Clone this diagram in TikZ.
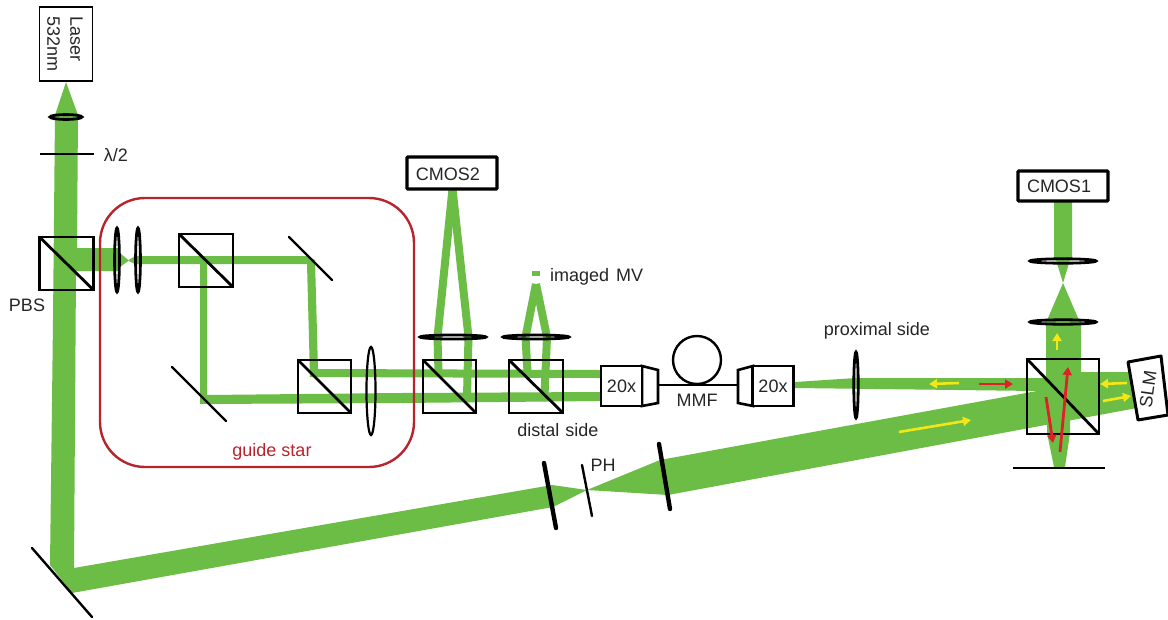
\documentclass[tikz,border=0pt]{standalone}
\usepackage{fontspec}
\setmainfont{Liberation Sans}
\usetikzlibrary{arrows.meta}
\definecolor{beamgreen}{HTML}{6CBD45}
\definecolor{framered}{HTML}{B8232C}
\definecolor{arrowred}{HTML}{E02028}
\definecolor{arrowyellow}{HTML}{F5E616}
\definecolor{txt}{HTML}{262626}
\tikzset{
  beamfill/.style={fill=beamgreen,draw=none},
  beamline/.style={draw=beamgreen,line width=8pt,line cap=butt,line join=miter},
  cube/.style={draw=black,line width=2.8pt,line join=miter},
  cubediag/.style={draw=black,line width=2.8pt},
  lensthick/.style={draw=black,line width=2.8pt},
  lensthin/.style={draw=black,line width=2.2pt},
  mirror/.style={draw=black,line width=2.4pt,line cap=round},
  slab/.style={draw=black,line width=4.4pt,line cap=round},
  label/.style={font=\fontsize{18}{20}\selectfont,text=txt,inner sep=0pt},
  camera/.style={draw=black,line width=3.2pt,fill=white,rounded corners=0.8pt,inner sep=0pt},
  objective/.style={draw=black,line width=2.8pt,fill=white,inner sep=0pt,minimum width=41pt,minimum height=40pt,font=\fontsize{18}{20}\selectfont,text=txt},
  yarrow/.style={draw=arrowyellow,line width=2.6pt,-{Triangle[length=8pt,width=9pt]}},
  rarrow/.style={draw=arrowred,line width=2.8pt,-{Triangle[length=8pt,width=9pt]}}
}
\begin{document}
\begin{tikzpicture}[x=1pt,y=-1pt]
\useasboundingbox (0,0) rectangle (1168,619);
\fill[white] (0,0) rectangle (1168,619);

% ---- green beams ----
% laser column, folding mirror and long beam to the first pinhole lens
\fill[beamfill] (66,82) -- (78,115) -- (77,248) -- (118,248) -- (120,253) -- (128,259.8) -- (128,261.2) -- (120,267) -- (118,271) -- (76,271)
  -- (74,568) -- (552,485) -- (587,490) -- (553,507) -- (72,593) -- (50,565) -- (53,320) -- (55,115) -- cycle;
% pinhole to cube, with the cube, SLM and the folded paths
\fill[beamfill] (587,490) -- (660,460) -- (1037,391) -- (795,388) -- (795,382) -- (856,378) -- (1046,378)
  -- (1046,322) -- (1048,318) -- (1063,283) -- (1056,260) -- (1054,258) -- (1054,202) -- (1072,202) -- (1072,258)
  -- (1070,260) -- (1063,283) -- (1078,318) -- (1081,322) -- (1081,372) -- (1131,372) -- (1137,408) -- (1070,420.4)
  -- (1070,433) -- (1065,467) -- (1054,467) -- (1047,433) -- (1047,424.7) -- (668,495) -- cycle;
% guide star arm
\fill[beamfill] (128,260.5) -- (135,256) -- (307,256) -- (315,260) -- (318,369) -- (600,370) -- (600,378) -- (310,377) -- (307,264)
  -- (207,264) -- (207,395) -- (400,393) -- (600,392) -- (600,401) -- (400,403) -- (200,404) -- (200,264) -- (135,264) -- cycle;
% relay paths to CMOS2 and to the imaged MV
\draw[beamline] (452.5,189) -- (437.5,337) -- (438.5,372);
\draw[beamline] (452.5,189) -- (468.5,337) -- (467,396);
\draw[beamline] (536,284) -- (525.5,337) -- (527.5,372);
\draw[beamline] (536,284) -- (547,337) -- (544.5,396);
\fill[beamfill] (532,271) rectangle (540,276);

% ---- guide star frame ----
\draw[draw=framered,line width=2.4pt,rounded corners=45pt] (100,198) rectangle (414,467);
\node[label,text=framered] (guide) at (272,452) {guide star};

% ---- cubes ----
\foreach \n/\xa/\ya/\xb/\yb in {pbs/39.5/237/93.5/290, bsa/179/234/233/287, bsb/298/360/351/413, bsc/423/360/476/413, bsd/509/360/563/413, bse/1027/359/1099/434}{
  \draw[cube] (\xa,\ya) rectangle (\xb,\yb);
  \draw[cubediag] (\xa,\ya) -- (\xb,\yb);
}

% ---- lenses ----
\draw[lensthick] (66,117) ellipse [x radius=16,y radius=2.4];
\draw[lensthick] (117,260) ellipse [x radius=2.4,y radius=32];
\draw[lensthick] (138,260) ellipse [x radius=2.4,y radius=32];
\draw[lensthin] (371,391) ellipse [x radius=4.5,y radius=44];
\draw[lensthick] (453,337) ellipse [x radius=33,y radius=2];
\draw[lensthick] (536,337) ellipse [x radius=33,y radius=2];
\draw[lensthick] (856,385) ellipse [x radius=2.2,y radius=33];
\draw[lensthick] (1063,261) ellipse [x radius=33,y radius=2.2];
\draw[lensthick] (1063,322) ellipse [x radius=33,y radius=2.2];
\draw[slab] (544,463) -- (556,528);
\draw[slab] (659,444) -- (670,509);

% ---- mirrors and plates ----
\draw[draw=black,line width=2pt] (40,154) -- (94,154);
\draw[mirror] (32,548) -- (92,617);
\draw[mirror] (289,237) -- (332,280);
\draw[mirror] (172,367) -- (226,421);
\draw[mirror] (582,465) -- (592,516);
\draw[draw=black,line width=2.6pt] (1013,468) -- (1105,468);

% ---- boxes ----
\node[draw=black,line width=1.3pt,fill=white,minimum width=53pt,minimum height=74pt,inner sep=0pt] (laser) at (66.3,44) {};
\node[label,rotate=-90,align=left,font=\fontsize{18}{23}\selectfont] (lasertext) at (65,44) {Laser\\532nm};
\node[camera,minimum width=90pt,minimum height=32pt] (cmosb) at (452,173) {};
\node[label] (cmosbt) at (448,174) {CMOS2};
\node[camera,minimum width=90pt,minimum height=30pt] (cmosa) at (1063,186) {};
\node[label] (cmosat) at (1059,186) {CMOS1};
\draw[draw=black,line width=3pt,fill=white,line join=round] (1128,362) -- (1161,356) -- (1168,415) -- (1138,420) -- cycle;
\node[label,rotate=82,inner sep=0pt] (slm) at (1148,389) {SLM};

% ---- objectives and fibre ----
\draw[draw=black,line width=2.6pt,fill=white] (642,366) -- (658,370) -- (658,403) -- (642,406) -- cycle;
\draw[draw=black,line width=2.6pt,fill=white] (753,366) -- (738,370) -- (738,403) -- (753,406) -- cycle;
\node[objective] (objl) at (621.5,386) {20x};
\node[objective] (objr) at (773,386) {20x};
\coordinate (backl) at (658,385);
\coordinate (backr) at (738,385);
\draw[draw=black,line width=2.4pt] (backl) -- (backr);
\draw[draw=black,line width=2.4pt] (697,360) circle [radius=24];

% ---- labels ----
\node[label] (wave) at (116,155) {λ/2};
\node[label] (pbslabel) at (27,305) {PBS};
\node[label,anchor=west] (mv) at (550,277) {imaged\hspace{2pt} MV};
\node[label] (distal) at (558,430) {distal\hspace{1pt} side};
\node[label] (mmf) at (697,400) {MMF};
\node[label] (prox) at (877,331) {proximal side};
\node[label] (ph) at (603,465) {PH};

% ---- polarisation arrows ----
\draw[yarrow] (1057,350) -- (1057,333);
\draw[yarrow] (1127,383) -- (1100,384);
\draw[yarrow] (1103,401) -- (1131,396);
\draw[yarrow] (959,383) -- (929,384);
\draw[yarrow] (899,432) -- (971,420);
\draw[rarrow] (979,384) -- (1013,384);
\draw[rarrow] (1046,397) -- (1053,443);
\draw[rarrow] (1060,452) -- (1068,367);
\end{tikzpicture}
\end{document}
